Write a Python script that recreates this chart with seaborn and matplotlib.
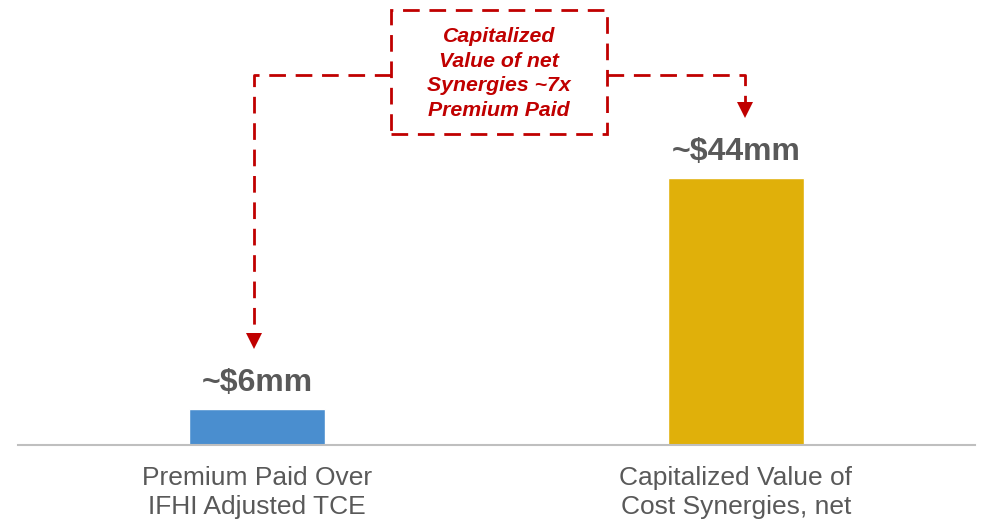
import numpy as np
import pandas as pd
import matplotlib.pyplot as plt
import seaborn as sns
from matplotlib.patches import Rectangle

categories = ["Premium Paid Over\nIFHI Adjusted TCE", "Capitalized Value of\nCost Synergies, net"]
values = [6, 44]
value_labels = ["~$6mm", "~$44mm"]
bar_colors = ["#4A8ECF", "#E0B00A"]
callout_text = "Capitalized\nValue of net\nSynergies ~7x\nPremium Paid"

sns.set_theme(style="white")
plt.rcParams['font.family'] = ['Liberation Sans', 'DejaVu Sans']

data = pd.DataFrame({"category": categories, "value": values})

fig = plt.figure(figsize=(9.83, 5.22), dpi=100)
ax = fig.add_axes([18 / 983, 77 / 522, 957 / 983, 445 / 522])

sns.barplot(data=data, x="category", y="value", hue="category",
            palette=bar_colors, width=0.285, legend=False, ax=ax,
            saturation=1)

ax.set_xlim(-0.5, 1.5)
ax.set_ylim(0, 73.3)
for s in ["top", "right", "left"]:
    ax.spines[s].set_visible(False)
ax.spines["bottom"].set_color("#BFBFBF")
ax.spines["bottom"].set_linewidth(1.5)
ax.set_yticks([])
ax.set_xlabel("")
ax.set_ylabel("")
ax.tick_params(axis="x", length=0, pad=15, labelsize=19, labelcolor="#595959")
for t in ax.get_xticklabels():
    t.set_linespacing(1.25)

# value labels
for i, (v, lab) in enumerate(zip(values, value_labels)):
    ax.text(i, v + 1.8, lab, ha="center", va="bottom", fontsize=23,
            fontweight="bold", color="#595959")

# dashed callout connectors
red = "#C00000"
dash = dict(color=red, lw=2, linestyle=(0, (6, 3.5)))
top_y = 61
arrow_x = [-0.006, 1.02]
tips = [v + 10 for v in values]
ax.plot([0.28, arrow_x[0], arrow_x[0]], [top_y, top_y, tips[0] + 2.2], **dash)
ax.plot([0.73, arrow_x[1], arrow_x[1]], [top_y, top_y, tips[1] + 2.2], **dash)
for x, t in zip(arrow_x, tips):
    ax.plot(x, t + 1.2, marker="v", markersize=11, color=red, markeredgewidth=0)

box = Rectangle((0.28, 51.2), 0.45, 20.5, facecolor="white", edgecolor=red,
                lw=2, linestyle=(0, (6, 3.5)), zorder=3)
ax.add_patch(box)
ax.text(0.505, 61.2, callout_text, ha="center", va="center", fontsize=15.3,
        fontweight="bold", fontstyle="italic", color=red, linespacing=1.38,
        zorder=4)

fig.savefig("out.png", dpi=100)
